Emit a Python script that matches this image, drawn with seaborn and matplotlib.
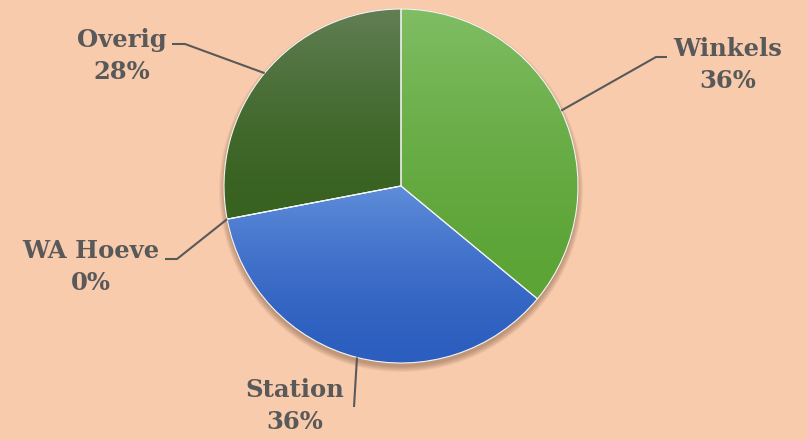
import numpy as np
import seaborn as sns
import matplotlib.pyplot as plt
from matplotlib.colors import LinearSegmentedColormap
from matplotlib.patches import Circle

# data
labels = ["Winkels", "Station", "WA Hoeve", "Overig"]
values = [9, 9, 0, 7]
top_colors = ["#80bd64", "#5f8dda", "#4a7a38", "#627f55"]
bottom_colors = ["#5ca436", "#2c5ebf", "#4a7a38", "#386220"]

sns.set_style("white")
plt.rcParams['font.family'] = ['DejaVu Serif']

bg = "#f8cbad"
txt = "#595959"

fig = plt.figure(figsize=(8.07, 4.40), dpi=100, facecolor=bg)
ax = fig.add_axes([0, 0, 1, 1])
ax.set_facecolor(bg)

cx, cy, R = 401, 254, 177

# soft shadow under the pie
for k in range(10):
    ax.add_patch(Circle((cx, cy - 4), R + 5 - k * 0.6, color="#7a5238",
                        alpha=0.05, lw=0, zorder=1))

wedges, _ = ax.pie(values, startangle=90, counterclock=False,
                   center=(cx, cy), radius=R, frame=True,
                   colors=top_colors,
                   wedgeprops=dict(edgecolor="#f4f4f4", linewidth=0.8))

# vertical gradient fill clipped to each wedge (darker part dominates)
grad = (np.linspace(0, 1, 256) ** 1.6).reshape(-1, 1)
for w, c_top, c_bot in zip(wedges, top_colors, bottom_colors):
    w.set_zorder(3)
    bb = w.get_path().get_extents(w.get_patch_transform())
    y0, y1 = bb.y0, max(bb.y1, bb.y0 + 1)
    cmap = LinearSegmentedColormap.from_list("g", [c_bot, c_top])
    im = ax.imshow(grad, cmap=cmap, origin="lower", aspect="auto",
                   extent=(cx - R, cx + R, y0, y1), zorder=2)
    im.set_clip_path(w)
    w.set_facecolor("none")

# leader lines and labels
elbows = {
    "Winkels": ((656, 383), (667, 383), (728, 375)),
    "Station": ((354, 33), (354, 33), (295, 34)),
    "WA Hoeve": ((177, 181), (165, 181), (91, 173)),
    "Overig": ((185, 396), (172, 396), (122, 384)),
}
total = sum(values)
for w, lab, v in zip(wedges, labels, values):
    ang = np.deg2rad((w.theta1 + w.theta2) / 2)
    sx, sy = cx + R * np.cos(ang), cy + R * np.sin(ang)
    (ex, ey), (hx, hy), (tx, ty) = elbows[lab]
    ax.plot([sx, ex, hx], [sy, ey, hy], color=txt, lw=1.5, zorder=4,
            solid_capstyle="butt")
    ax.text(tx, ty, f"{lab}\n{round(v / total * 100)}%", ha="center",
            va="center", fontsize=17.5, fontweight="bold", color=txt,
            linespacing=1.45, zorder=5)

ax.set_xlim(0, 807)
ax.set_ylim(0, 440)
ax.set_aspect("auto")
ax.axis("off")

fig.savefig("out.png", dpi=100, facecolor=bg)
